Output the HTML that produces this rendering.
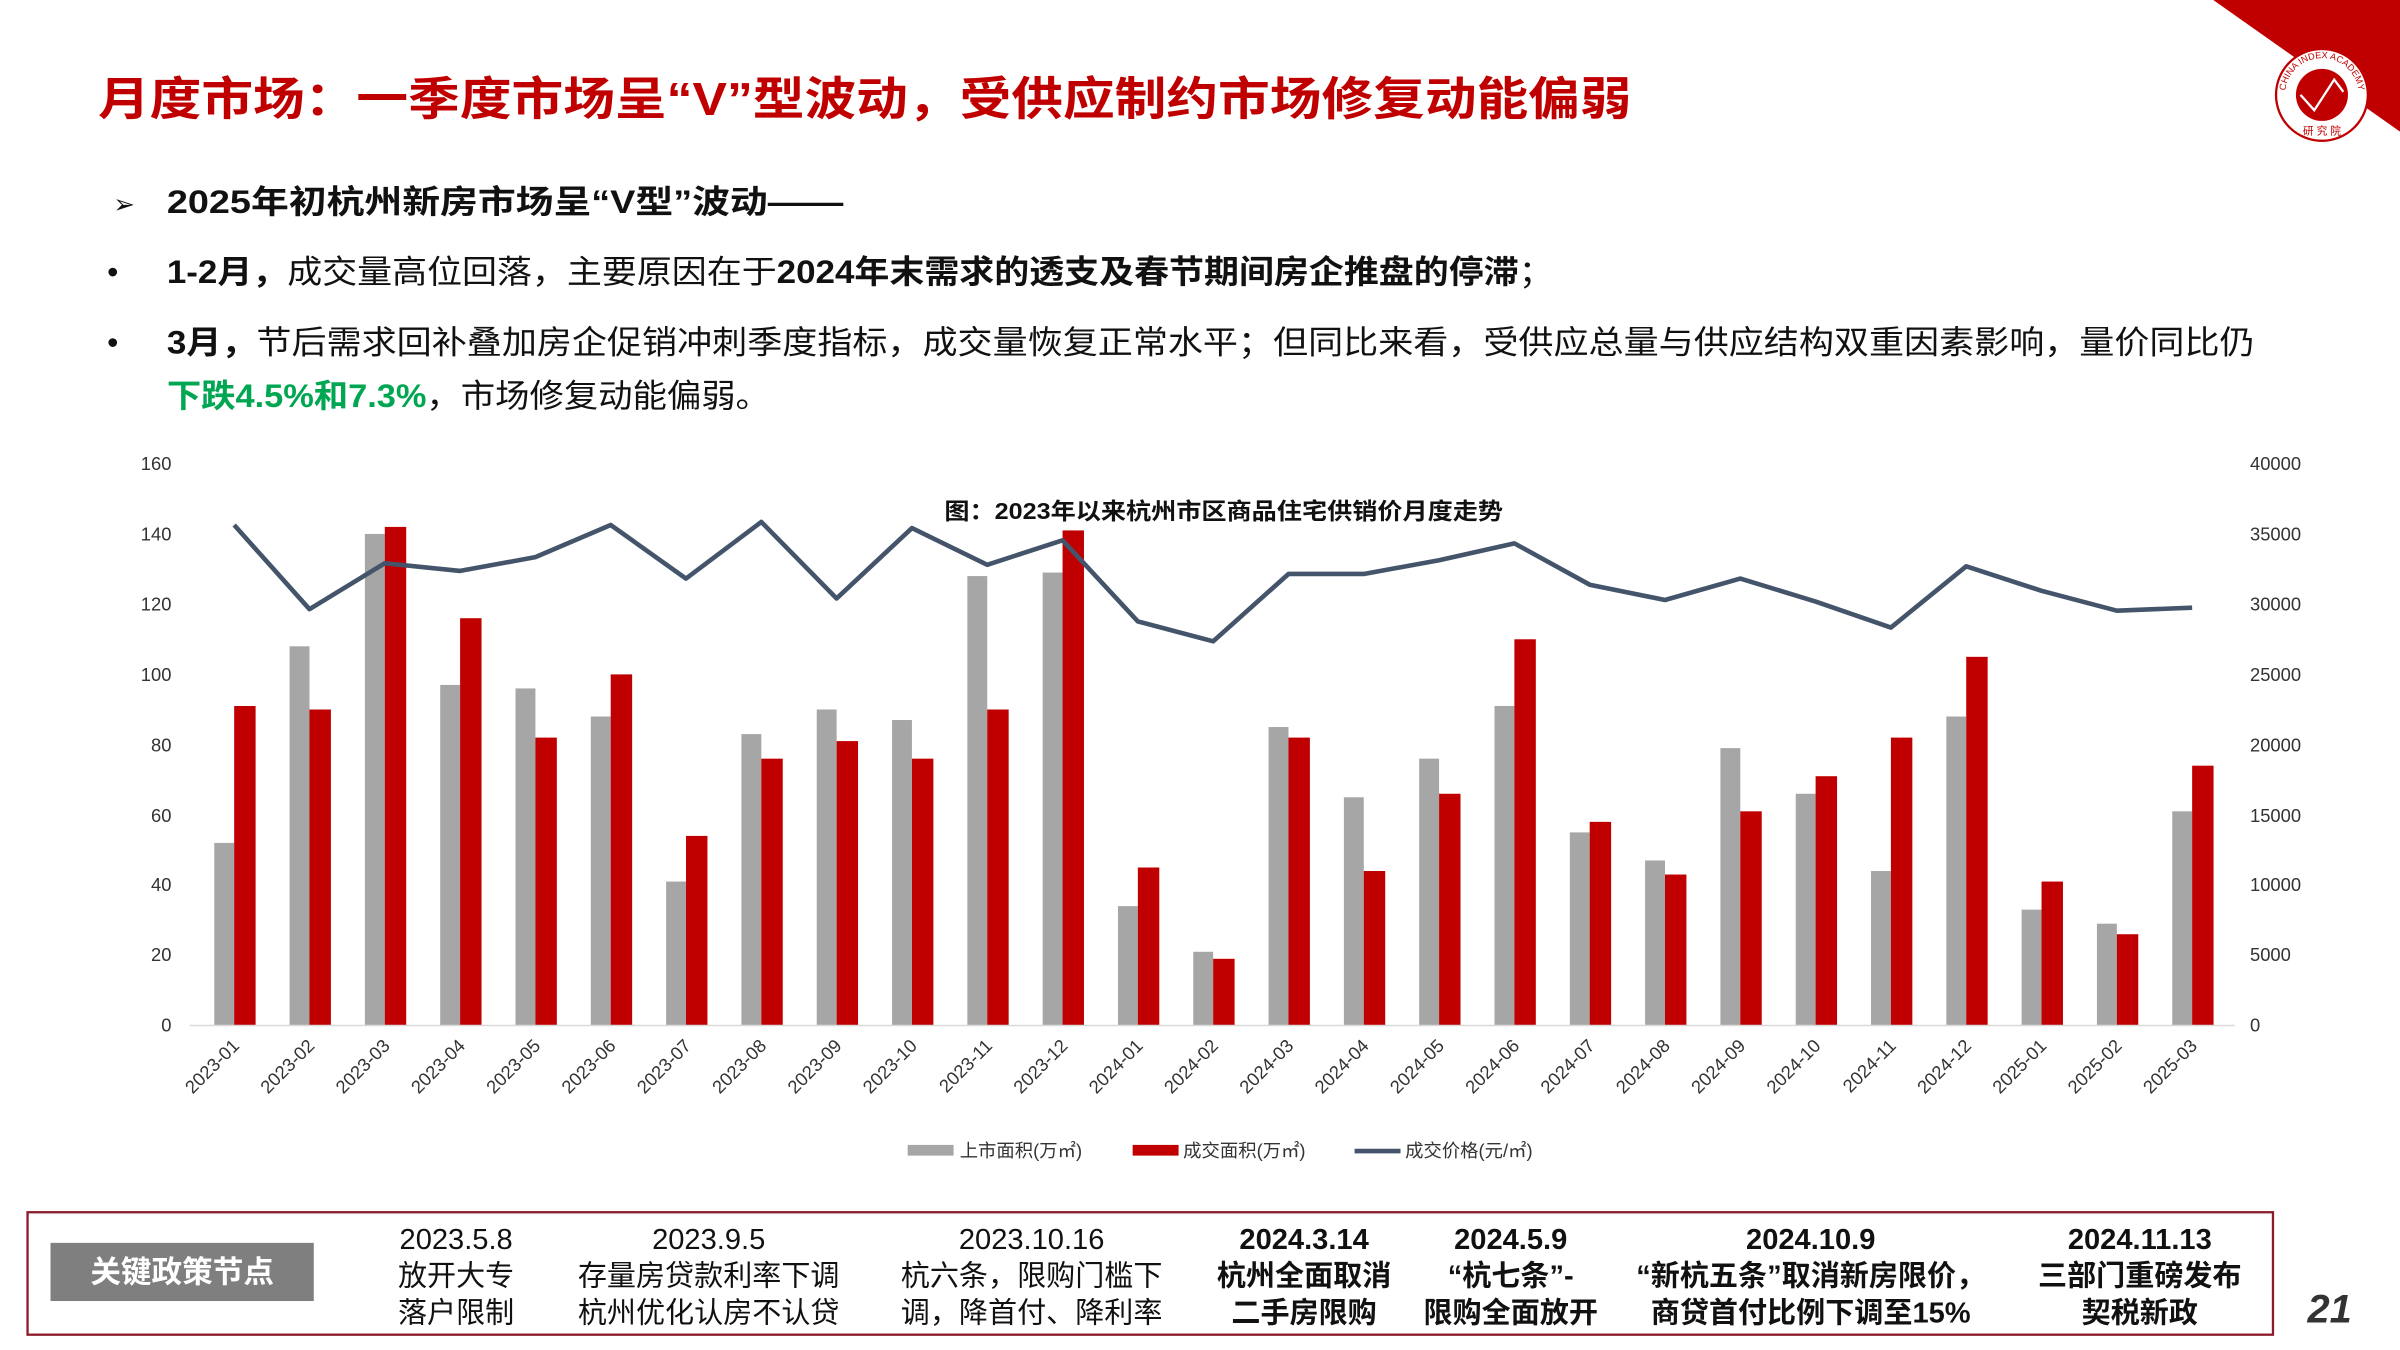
<!DOCTYPE html>
<html><head><meta charset="utf-8"><style>
html,body{margin:0;padding:0;background:#fff;}
svg{display:block;font-family:"Liberation Sans","Noto Sans CJK SC",sans-serif;}
</style></head><body>
<svg id="s" width="2400" height="1350" viewBox="0 0 1568 882" xmlns="http://www.w3.org/2000/svg">
<rect width="1568" height="882" fill="#fff"/>
<polygon points="1446,0 1568,0 1568,86" fill="#c00000"/>
<circle cx="1517" cy="62" r="30" fill="#fff" stroke="#c00000" stroke-width="1.5"/>
<circle cx="1517" cy="62" r="17" fill="#c00000"/>
<polyline points="1503,62 1512,72 1525,52 1531,60" fill="none" stroke="#fff" stroke-width="1.5"/>
<path id="arc" d="M1493,62 A24,24 0 0 1 1541,62" fill="none"/>
<text font-size="6" fill="#c00000"><textPath href="#arc" startOffset="50%" text-anchor="middle">CHINA INDEX ACADEMY</textPath></text>
<text x="1517" y="88" font-size="7" fill="#c00000" text-anchor="middle">研 究 院</text>

<text x="64" y="75" font-size="30" font-weight="bold" fill="#c00000" textLength="1002" lengthAdjust="spacingAndGlyphs">月度市场：一季度市场呈“V”型波动，受供应制约市场修复动能偏弱</text>
<g font-size="21" fill="#111">
<text x="74" y="139" font-size="17">➢</text>
<text x="109" y="139" font-weight="bold" textLength="442" lengthAdjust="spacingAndGlyphs">2025年初杭州新房市场呈“V型”波动——</text>
<text x="70" y="185">•</text>
<text x="109" y="185" textLength="906" lengthAdjust="spacingAndGlyphs"><tspan font-weight="bold">1-2月，</tspan>成交量高位回落，主要原因在于<tspan font-weight="bold">2024年末需求的透支及春节期间房企推盘的停滞</tspan>；</text>
<text x="70" y="231">•</text>
<text x="109" y="231" textLength="1364" lengthAdjust="spacingAndGlyphs"><tspan font-weight="bold">3月，</tspan>节后需求回补叠加房企促销冲刺季度指标，成交量恢复正常水平；但同比来看，受供应总量与供应结构双重因素影响，量价同比仍</text>
<text x="109" y="266" textLength="394" lengthAdjust="spacingAndGlyphs"><tspan font-weight="bold" fill="#00a651">下跌4.5%和7.3%</tspan>，市场修复动能偏弱。</text>
</g>

<g font-size="12" fill="#333">
<text x="112" y="307" text-anchor="end">160</text>
<text x="112" y="353" text-anchor="end">140</text>
<text x="112" y="399" text-anchor="end">120</text>
<text x="112" y="445" text-anchor="end">100</text>
<text x="112" y="491" text-anchor="end">80</text>
<text x="112" y="537" text-anchor="end">60</text>
<text x="112" y="582" text-anchor="end">40</text>
<text x="112" y="628" text-anchor="end">20</text>
<text x="112" y="674" text-anchor="end">0</text>
<text x="1470" y="307">40000</text>
<text x="1470" y="353">35000</text>
<text x="1470" y="399">30000</text>
<text x="1470" y="445">25000</text>
<text x="1470" y="491">20000</text>
<text x="1470" y="537">15000</text>
<text x="1470" y="582">10000</text>
<text x="1470" y="628">5000</text>
<text x="1470" y="674">0</text>
</g>
<text x="617" y="339" font-size="15" font-weight="bold" fill="#111" textLength="365" lengthAdjust="spacingAndGlyphs">图：2023年以来杭州市区商品住宅供销价月度走势</text>
<g id="bars"></g>
<line x1="124" y1="670" x2="1460" y2="670" stroke="#d9d9d9" stroke-width="1"/>
<g id="labels" font-size="12" fill="#333">
</g>
<g font-size="12" fill="#333">
<rect x="593" y="748" width="30" height="7" fill="#a6a6a6"/><text x="627" y="756">上市面积(万㎡)</text>
<rect x="740" y="748" width="30" height="7" fill="#c00000"/><text x="773" y="756">成交面积(万㎡)</text>
<line x1="885" y1="752" x2="915" y2="752" stroke="#44546a" stroke-width="3"/><text x="918" y="756">成交价格(元/㎡)</text>
</g>

<rect x="18" y="792" width="1467" height="80" fill="none" stroke="#8b1a2b" stroke-width="1.5"/>
<rect x="33" y="812" width="172" height="38" fill="#7f7f7f"/>
<text x="119" y="838" font-size="20" font-weight="bold" fill="#fff" text-anchor="middle">关键政策节点</text>
<g font-size="19" fill="#111" text-anchor="middle">
<text x="298" y="816">2023.5.8</text><text x="298" y="840">放开大专</text><text x="298" y="864">落户限制</text>
<text x="463" y="816">2023.9.5</text><text x="463" y="840">存量房贷款利率下调</text><text x="463" y="864">杭州优化认房不认贷</text>
<text x="674" y="816">2023.10.16</text><text x="674" y="840">杭六条，限购门槛下</text><text x="674" y="864">调，降首付、降利率</text>
<g font-weight="bold">
<text x="852" y="816">2024.3.14</text><text x="852" y="840">杭州全面取消</text><text x="852" y="864">二手房限购</text>
<text x="987" y="816">2024.5.9</text><text x="987" y="840">“杭七条”-</text><text x="987" y="864">限购全面放开</text>
<text x="1183" y="816">2024.10.9</text><text x="1183" y="840">“新杭五条”取消新房限价，</text><text x="1183" y="864">商贷首付比例下调至15%</text>
<text x="1398" y="816">2024.11.13</text><text x="1398" y="840">三部门重磅发布</text><text x="1398" y="864">契税新政</text>
</g></g>
<text x="1522" y="864" font-size="26" font-weight="bold" font-style="italic" fill="#333" text-anchor="middle">21</text>
</svg>
<script>
var g=[52,108,140,97,96,88,41,83,90,87,128,129,34,21,85,65,76,91,55,47,79,66,44,88,33,29,61];
var r=[91,90,142,116,82,100,54,76,81,76,90,141,45,19,82,44,66,110,58,43,61,71,82,105,41,26,74];
var l=[343,398,368,373,364,343,378,341,391,345,369,353,406,419,375,375,366,355,382,392,378,393,410,370,386,399,397];
var m=[];for(var y=2023;y<=2025;y++)for(var k=1;k<=12;k++){if(y==2025&&k>3)break;m.push(y+"-"+(k<10?"0":"")+k);}
var b=document.getElementById("bars"),h="",pts=[];
for(var i=0;i<27;i++){var c=153+i*49.2;
h+='<rect x="'+(c-13)+'" y="'+(670-g[i]*2.294)+'" width="13" height="'+g[i]*2.294+'" fill="#a6a6a6"/>';
h+='<rect x="'+c+'" y="'+(670-r[i]*2.294)+'" width="14" height="'+r[i]*2.294+'" fill="#c00000"/>';
pts.push(c+","+l[i]);}
h+='<polyline points="'+pts.join(" ")+'" fill="none" stroke="#44546a" stroke-width="3" stroke-linejoin="round"/>';
b.innerHTML=h;
var L="";for(var i=0;i<27;i++){var c=153+i*49.2;L+='<text transform="translate('+(c+4)+',684) rotate(-45)" text-anchor="end">'+m[i]+'</text>';}
document.getElementById("labels").innerHTML=L;
</script>
</body></html>
